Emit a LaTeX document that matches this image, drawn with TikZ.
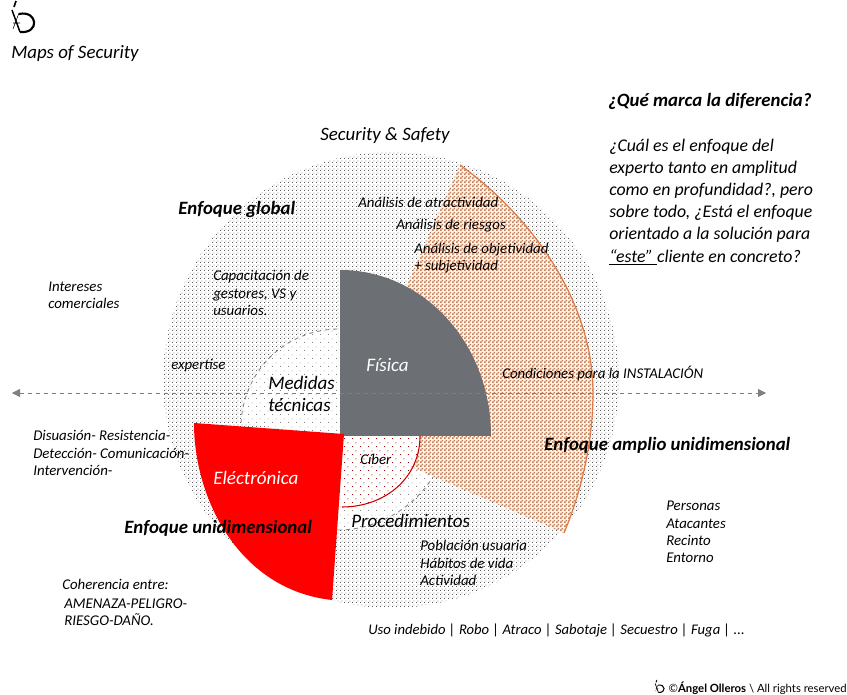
\documentclass[tikz,border=0pt]{standalone}
\usepackage{fontspec}
\setmainfont{Carlito}
\newfontfamily\footfont{Lato}
\usetikzlibrary{positioning,patterns,arrows.meta}
\definecolor{slategray}{HTML}{6C6F74}
\definecolor{secred}{HTML}{FF0000}
\definecolor{secorange}{HTML}{E07A45}
\definecolor{dotorange}{HTML}{C27C5C}
\definecolor{cream}{HTML}{FFF6E6}
\definecolor{axisgray}{HTML}{7F7F7F}
% tiles of 4 and 8 px, dots of 1 and 2 px
\pgfdeclarepatternformonly{outerdots}{\pgfqpoint{0pt}{0pt}}{\pgfqpoint{3pt}{3pt}}{\pgfqpoint{3pt}{3pt}}{%
  \pgfpathrectangle{\pgfqpoint{0pt}{0pt}}{\pgfqpoint{0.75pt}{0.75pt}}%
  \pgfpathrectangle{\pgfqpoint{1.5pt}{1.5pt}}{\pgfqpoint{0.75pt}{0.75pt}}\pgfusepath{fill}}
\pgfdeclarepatternformonly{sparsedots}{\pgfqpoint{0pt}{0pt}}{\pgfqpoint{6pt}{6pt}}{\pgfqpoint{6pt}{6pt}}{%
  \pgfpathrectangle{\pgfqpoint{0pt}{0pt}}{\pgfqpoint{0.75pt}{0.75pt}}%
  \pgfpathrectangle{\pgfqpoint{3pt}{3pt}}{\pgfqpoint{0.75pt}{0.75pt}}\pgfusepath{fill}}
\pgfdeclarepatternformonly{squaredots}{\pgfqpoint{0pt}{0pt}}{\pgfqpoint{3pt}{3pt}}{\pgfqpoint{3pt}{3pt}}{%
  \pgfpathrectangle{\pgfqpoint{0pt}{0pt}}{\pgfqpoint{1.5pt}{1.5pt}}%
  \pgfpathrectangle{\pgfqpoint{1.5pt}{1.5pt}}{\pgfqpoint{1.5pt}{1.5pt}}\pgfusepath{fill}}
\tikzset{
  lbl/.style={inner sep=0pt,anchor=west,align=left,yshift=-0.75pt,font=\fontsize{11.15}{13}\selectfont\itshape},
  bigtitle/.style={lbl,font=\fontsize{14.15}{16.5}\selectfont\itshape},
  bodytext/.style={lbl,font=\fontsize{13.35}{16.6}\selectfont\itshape},
  headlbl/.style={lbl,font=\fontsize{14.1}{16}\selectfont\bfseries\itshape},
  sectorlbl/.style={lbl,font=\fontsize{14.3}{16.5}\selectfont\itshape},
  logomark/.pic={
    \draw [black,line width=#1*1.1] (-12,-11) -- (-4,11);
    \draw [black,line width=#1*0.4] (-11,8) -- (-5,-8) (-11,2) -- (-4,2);
    \draw [black,line width=#1*1.6] (-5,-7) .. controls (14,-11) and (16,13) .. (-4,11);
    \draw [black,line width=#1*1.3] (-8,-20) -- (-10,-14);
  }
}
\begin{document}
\begin{tikzpicture}[x=0.75pt,y=-0.75pt]
\useasboundingbox (0,0) rectangle (847,695);
% outer disc
\fill [pattern=outerdots,pattern color=black!65] (391,380) circle (228);
% orange sector
\path [fill=cream] (340,436) -- (460,165) .. controls (530,215) and (593,300) .. (593,393) .. controls (593,445) and (580,495) .. (564,533) -- cycle;
\fill [pattern=squaredots,pattern color=dotorange] (340,436) -- (460,165) .. controls (530,215) and (593,300) .. (593,393) .. controls (593,445) and (580,495) .. (564,533) -- cycle;
\draw [secorange,line width=0.9] (460,165) .. controls (530,215) and (593,300) .. (593,393) .. controls (593,445) and (580,495) .. (564,533);
% procedimientos
\fill [white] (340,436) -- (338,530) .. controls (375,530) and (412,510) .. (433,477) -- cycle;
\fill [pattern=sparsedots,pattern color=black!50] (340,436) -- (338,530) .. controls (375,530) and (412,510) .. (433,477) -- cycle;
\draw [axisgray,dashed,line width=0.6] (338,530) .. controls (375,530) and (412,510) .. (433,477);
% medidas
\fill [white] (340,436) -- (241,423) .. controls (244,370) and (285,330) .. (338,329) -- (340,436);
\fill [pattern=sparsedots,pattern color=black!50] (340,436) -- (241,423) .. controls (244,370) and (285,330) .. (338,329) -- (340,436);
\draw [axisgray,dashed,line width=0.6] (241,423) .. controls (244,370) and (285,330) .. (338,329);
% ciber
\fill [white] (340,436) -- (420,436) .. controls (420,478) and (385,507) .. (342,507) -- cycle;
\fill [pattern=sparsedots,pattern color=secred!55!black] (340,436) -- (420,436) .. controls (420,478) and (385,507) .. (342,507) -- cycle;
\draw [secred!80!black,line width=0.8] (420,436) .. controls (420,478) and (385,507) .. (342,507);
% fisica
\fill [slategray] (340,436) -- (340,270) .. controls (425,270) and (491,345) .. (491,436) -- cycle;
% electronica
\fill [secred] (344,434) -- (194,423) .. controls (194,500) and (240,590) .. (332,600) -- cycle;
% axis
\coordinate (axisL) at (12,393);
\coordinate (axisR) at (766,393);
\draw [axisgray,dashed,line width=0.6,{Triangle[length=6pt,width=6pt]}-{Triangle[length=6pt,width=6pt]}] (axisL) -- (axisR);
% labels
\pic at (24,21) {logomark=1};
\node [bigtitle] (maps) at (11,53) {Maps of Security};
\node [bigtitle] (safety) at (320,135) {Security \& Safety};
\node [headlbl] (pregunta) at (608,100) {¿Qué marca la diferencia?};
\node [bodytext] (cuerpo) at (609,201) {¿Cuál es el enfoque del\\experto tanto en amplitud\\como en profundidad?, pero\\sobre todo, ¿Está el enfoque\\orientado a la solución para\\\underline{“este”~}cliente en concreto?};
\node [headlbl] (global) at (178,208) {Enfoque global};
\node [lbl] (atractiva) at (358,201) {Análisis de atractividad};
\node [lbl] (riesgos) at (396,225) {Análisis de riesgos};
\node [lbl] (objetiva) at (414,257) {Análisis de objetividad\\+ subjetividad};
\node [lbl] (intereses) at (48,294) {Intereses\\comerciales};
\node [lbl] (capacita) at (213,292) {Capacitación de\\gestores, VS y\\usuarios.};
\node [lbl] (expertise) at (171,365) {expertise};
\node [sectorlbl,text=white] (fisica) at (366,364) {Física};
\node [sectorlbl] (medidas) at (268,393) {Medidas\\técnicas};
\node [lbl] (condicion) at (502,372) {Condiciones para la INSTALACIÓN};
\node [lbl] (disuasion) at (33,452) {Disuasión- Resistencia-\\Detección- Comunicación-\\Intervención-};
\node [headlbl] (amplio) at (544,444) {Enfoque amplio unidimensional};
\node [lbl] (ciber) at (360,458) {Cíber};
\node [sectorlbl,text=white] (electro) at (213,477) {Eléctrónica};
\node [sectorlbl] (proced) at (351,520) {Procedimientos};
\node [headlbl] (unidim) at (124,527) {Enfoque unidimensional};
\node [lbl] (personas) at (666,531) {Personas\\Atacantes\\Recinto\\Entorno};
\node [lbl] (poblacion) at (420,562) {Población usuaria\\Hábitos de vida\\Actividad};
\node [lbl] (coherencia) at (62,583) {Coherencia entre:};
\node [lbl] (amenaza) at (64,611) {AMENAZA-PELIGRO-\\RIESGO-DAÑO.};
\node [lbl,font=\fontsize{11}{13}\selectfont\itshape] (usos) at (368,629) {Uso indebido | Robo | Atraco | Sabotaje | Secuestro | Fuga | ...};
\pic [scale=0.4] at (660,688) {logomark=0.5};
\node [inner sep=0pt,anchor=east,font=\footfont\fontsize{8.5}{10}\selectfont] (autor) at (847,688) {©\textbf{Ángel Olleros} \textbackslash{} All rights reserved};
\end{tikzpicture}
\end{document}
